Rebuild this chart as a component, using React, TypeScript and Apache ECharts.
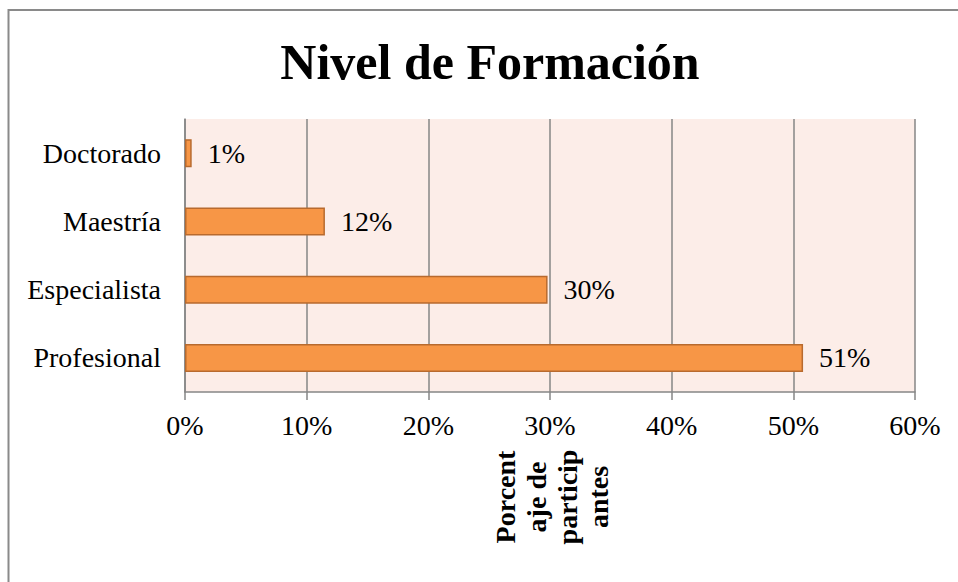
import React, { useEffect, useRef } from "react";
import * as echarts from "echarts";

const categories = ["Profesional", "Especialista", "Maestría", "Doctorado"];
const values = [50.8, 29.8, 11.5, 0.55];
const xTicks = [0, 10, 20, 30, 40, 50, 60];
const titleText = "Nivel de Formación";
const axisTitle = "Porcent\naje de\nparticip\nantes";

const FONT = "'Liberation Serif', 'DejaVu Serif', serif";

export default function App() {
  const ref = useRef<HTMLDivElement>(null);
  useEffect(() => {
    if (!ref.current) return;
    const chart = echarts.init(ref.current, null, { renderer: "svg" });
    chart.setOption({
      animation: false,
      backgroundColor: "#ffffff",
      title: {
        text: titleText,
        left: 485,
        top: 32,
        textAlign: "center",
        textStyle: { fontFamily: FONT, fontSize: 50, fontWeight: "bold", color: "#000" },
      },
      grid: {
        left: 185,
        right: 43,
        top: 119,
        bottom: 190,
        show: true,
        backgroundColor: "#FCEDE8",
        borderWidth: 0,
      },
      xAxis: {
        type: "value",
        min: xTicks[0],
        max: xTicks[xTicks.length - 1],
        interval: 10,
        axisLine: { show: true, lineStyle: { color: "#868686", width: 1.5 } },
        axisTick: { show: true, length: 8, lineStyle: { color: "#868686", width: 1.5 } },
        splitLine: { show: true, lineStyle: { color: "#868686", width: 1.5 } },
        axisLabel: {
          formatter: (v: number) => `${v}%`,
          fontFamily: FONT,
          fontSize: 28,
          color: "#000",
          margin: 19,
        },
      },
      yAxis: {
        type: "category",
        data: categories,
        axisLine: { show: true, lineStyle: { color: "#868686", width: 1.5 } },
        axisTick: { show: false },
        axisLabel: { fontFamily: FONT, fontSize: 28, color: "#000", margin: 24 },
      },
      series: [
        {
          type: "bar",
          data: values,
          barWidth: 28,
          itemStyle: { color: "#F79646", borderColor: "#B86A2E", borderWidth: 1.5 },
          label: {
            show: true,
            position: "right",
            distance: 16,
            formatter: (p: any) => `${Math.round(p.value)}%`,
            fontFamily: FONT,
            fontSize: 28,
            color: "#000",
          },
        },
      ],
      graphic: [
        {
          type: "rect",
          shape: { x: 8.5, y: 10, width: 1200, height: 900 },
          style: { fill: "none", stroke: "#8a8a8a", lineWidth: 2 },
          silent: true,
          z: 100,
        },
        {
          type: "text",
          x: 552,
          y: 497,
          rotation: Math.PI / 2,
          style: {
            text: axisTitle,
            fontFamily: FONT,
            fontSize: 28,
            fontWeight: "bold",
            lineHeight: 31,
            fill: "#000",
            align: "center",
            verticalAlign: "middle",
          },
        },
      ],
    });
    return () => chart.dispose();
  }, []);
  return (
    <div
      ref={ref}
      style={{ position: "fixed", left: 0, top: 0, width: 958, height: 582 }}
    />
  );
}
